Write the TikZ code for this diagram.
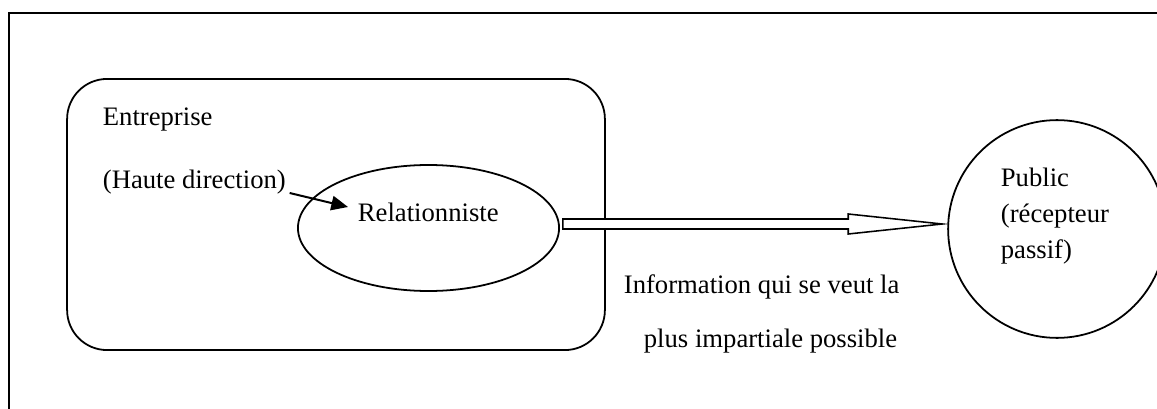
\documentclass[tikz,border=0pt]{standalone}
\usepackage{fontspec}
\setmainfont{Liberation Serif}
\usetikzlibrary{shapes.geometric, arrows.meta, calc}

\begin{document}
\begin{tikzpicture}[x=0.45pt, y=-0.45pt, line width=0.8pt,
    txt/.style={inner sep=0pt, anchor=west, font=\fontsize{12}{16.2}\selectfont}]
    \useasboundingbox (0,0) rectangle (1157,409);
    % Frame
    \draw[line width=0.7pt] (9,409) -- (9,13) -- (1157,13);

    % Company side
    \node[draw, rounded corners=18pt, minimum width=242pt, minimum height=122pt] (firm) at (336,214.5) {};
    \node[draw, ellipse, inner sep=0pt, minimum width=117.5pt, minimum height=56.7pt] (rel) at (428.5,228) {};
    \node[txt] (firmt) at (102,120) {Entreprise};
    \node[txt] (haute) at (102,182) {(Haute direction)};
    \node[txt] (relt) at (357,212) {Relationniste};
    \draw[line width=0.9pt, -{Triangle[length=7.5pt,width=6.5pt]}] ([shift={(3,11)}]haute.east) -- ([shift={(-9,-5)}]relt.west);

    % Public side
    \node[draw, circle, inner sep=0pt, minimum size=98pt] (pub) at (1057,229) {};
    \node[txt, align=left] (pubt) at (1000,216) {Public\\(récepteur\\passif)};

    % Block arrow
    \coordinate (tail) at ($(rel.east)+(3,-4)$);
    \coordinate (tip) at ($(pub.west)+(-5,-5)$);
    \draw[line width=0.7pt, fill=white] ($(tail)+(0,-5)$) -- ($(tip)+(-94,-5)$) -- ($(tip)+(-94,-10)$) -- (tip)
        -- ($(tip)+(-94,10)$) -- ($(tip)+(-94,5)$) -- ($(tail)+(0,5)$) -- cycle;
    \node[txt, align=left, font=\fontsize{12}{24.3}\selectfont] (info) at (623,314) {Information qui se veut la\\\hspace{9pt}plus impartiale possible};
\end{tikzpicture}
\end{document}
